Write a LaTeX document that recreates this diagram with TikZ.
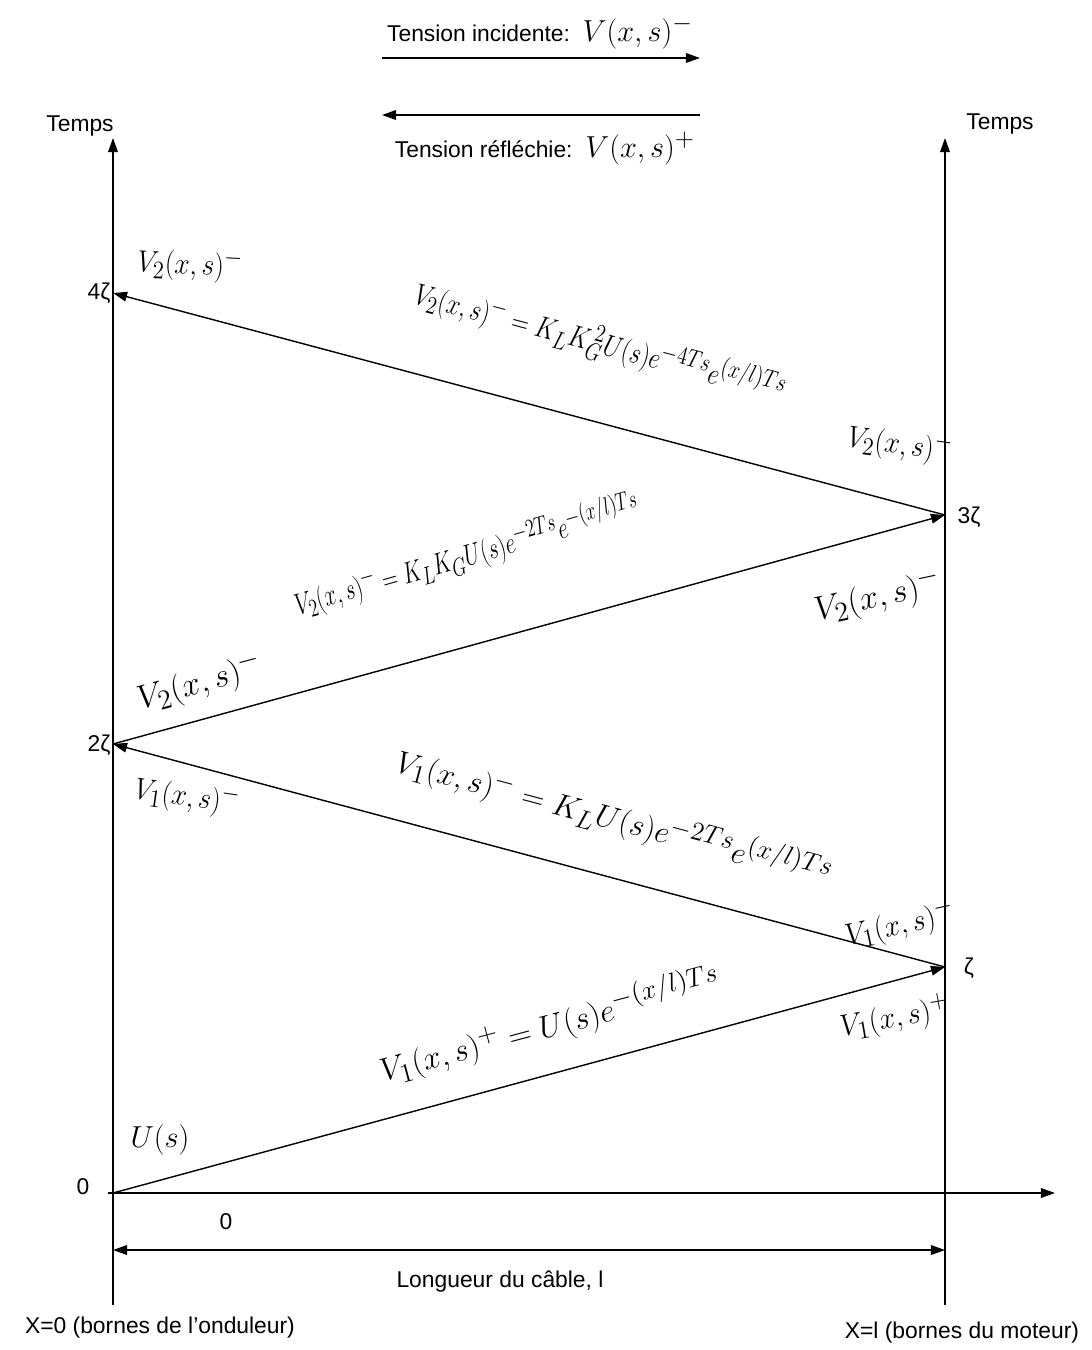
\documentclass[tikz,border=0pt]{standalone}
\usepackage[no-math]{fontspec}
\setmainfont{Liberation Serif}
\setsansfont{Liberation Sans}
\usetikzlibrary{arrows.meta}

\begin{document}
\begin{tikzpicture}[
  x=0.02cm, y=-0.02cm,
  font=\sffamily,
  axe/.style={-{Triangle[length=8pt,width=5.5pt]}, line width=0.8pt},
  onde/.style={-{Triangle[length=8pt,width=5.5pt]}, line width=0.8pt},
  cote/.style={{Triangle[length=8pt,width=5.5pt]}-{Triangle[length=8pt,width=5.5pt]}, line width=0.8pt},
  texte/.style={font=\sffamily\fontsize{13}{15}\selectfont, inner sep=1pt},
  formule/.style={font=\fontsize{19}{22}\selectfont, inner sep=0pt},
  petit/.style={font=\fontsize{19}{22}\selectfont, inner sep=0pt},
]
\useasboundingbox (0,0) rectangle (1092,1350);

% points de reflexion
\coordinate (o) at (113,1193);
\coordinate (t1) at (945,967);
\coordinate (t2) at (113,744);
\coordinate (t3) at (945,515);
\coordinate (t4) at (113,293);

% axes
\coordinate (basG) at (113,1305);
\coordinate (hautG) at (113,138);
\coordinate (basD) at (945,1305);
\coordinate (hautD) at (945,138);
\coordinate (debX) at (108,1193);
\coordinate (finX) at (1055,1193);
\coordinate (coteG) at (113,1250);
\coordinate (coteD) at (945,1250);

% legende
\coordinate (incG) at (382,58);
\coordinate (incD) at (700,58);
\coordinate (refG) at (382,115);
\coordinate (refD) at (700,115);

\draw[axe] (basG) -- (hautG);
\draw[axe] (basD) -- (hautD);
\draw[axe] (debX) -- (finX);
\draw[cote] (coteG) -- (coteD);

\draw[onde] (o) -- (t1);
\draw[onde] (t1) -- (t2);
\draw[onde] (t2) -- (t3);
\draw[onde] (t3) -- (t4);

\draw[onde] (incG) -- (incD);
\draw[onde] (refD) -- (refG);

% textes
\node[texte] (incid) at (540,32) {Tension incidente:\ \ {\fontsize{19}{22}\selectfont$V(x,s)^{-}$}};
\node[texte] (refl) at (545,148) {Tension réfléchie:\ \ {\fontsize{19}{22}\selectfont$V(x,s)^{+}$}};
\node[texte] (tpsG) at (80,126) {Temps};
\node[texte] (tpsD) at (1000,124) {Temps};
\node[texte] (n0) at (83,1187) {0};
\node[texte] (nz1) at (969,968) {ζ};
\node[texte] (nz2) at (99,745) {2ζ};
\node[texte] (nz3) at (969,517) {3ζ};
\node[texte] (nz4) at (99,293) {4ζ};
\node[texte] (x0) at (226,1222) {0};
\node[texte] (longueur) at (500,1282) {Longueur du câble, l};
\node[texte] (bornesG) at (160,1328) {X=0 (bornes de l’onduleur)};
\node[texte] (bornesD) at (962,1333) {X=l (bornes du moteur)};

% expressions des ondes
\node[formule, rotate=15, scale=1.06] (f1) at (550,1025) {$V_1(x,s)^{+}=U(s)e^{-(x/l)Ts}$};
\node[formule, rotate=-15, scale=1.04] (f2) at (614,818) {$V_1(x,s)^{-}=K_LU(s)e^{-2Ts}e^{(x/l)Ts}$};
\node[formule, rotate=16, xscale=0.72] (f3) at (467,555) {$V_2(x,s)^{-}=K_LK_GU(s)e^{-2Ts}e^{-(x/l)Ts}$};
\node[formule, rotate=-15, xscale=0.8] (f4) at (600,343) {$V_2(x,s)^{-}=K_LK_G^{\,2}U(s)e^{-4Ts}e^{(x/l)Ts}$};

\node[petit] (u0) at (160,1140) {$U(s)$};
\node[petit, rotate=10, xscale=0.95] (a1) at (895,1018) {$V_1(x,s)^{+}$};
\node[petit, rotate=12, xscale=0.95] (b1) at (900,925) {$V_1(x,s)^{-}$};
\node[petit, rotate=-8, xscale=0.9] (a2) at (187,797) {$V_1(x,s)^{-}$};
\node[petit, rotate=15, scale=1.1] (b2) at (200,683) {$V_2(x,s)^{-}$};
\node[petit, rotate=12, scale=1.1] (a3) at (878,597) {$V_2(x,s)^{-}$};
\node[petit, rotate=-8, xscale=0.9] (b3) at (900,445) {$V_2(x,s)^{-}$};
\node[petit, rotate=-3, xscale=0.9] (a4) at (190,265) {$V_2(x,s)^{-}$};

\end{tikzpicture}
\end{document}
